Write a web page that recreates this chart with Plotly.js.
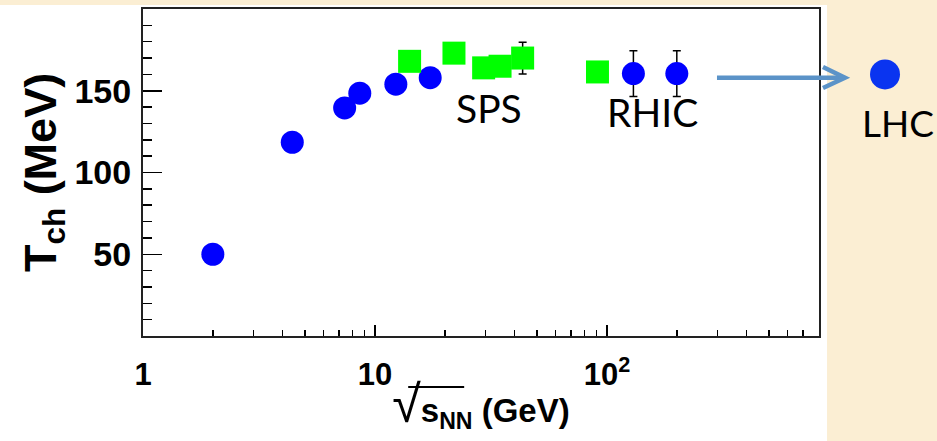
<!DOCTYPE html>
<html>
<head>
<meta charset="utf-8">
<script src="https://cdn.plot.ly/plotly-3.0.1.min.js"></script>
<style>html,body{margin:0;padding:0;background:#fbeed3;}</style>
</head>
<body>
<div id="chart" style="width:937px;height:441px;"></div>
<script>
// Blue circles (AGS/SIS + RHIC)
const blueEnergy = [2.0, 4.4, 7.4, 8.6, 12.3, 17.3, 130, 200];
const blueTch    = [50, 118.5, 139.5, 148.5, 154, 158, 160.5, 160.5];
const blueErr    = [0, 0, 0, 0, 0, 0, 14, 14];
// Green squares (SPS)
const greenEnergy = [14.1, 21.9, 29.4, 34.6, 43.3, 91];
const greenTch    = [168, 173, 164, 165, 170, 161.5];
const greenErr    = [0, 0, 0, 0, 9.7, 0];
// LHC point, drawn in a separate inset outside the frame
const lhcEnergy = [2760];
const lhcTch    = [160];
// Axis ticks
const xTickVals = [1, 10, 100];
const xTickText = ['1', '10', '10<sup>2</sup>'];
const xMinorVals = [2,3,4,5,6,7,8,9,20,30,40,50,60,70,80,90,200,300,400,500,600,700];
const yTickVals = [50, 100, 150];
const yTickText = ['50', '100', '150'];
const yMinorVals = [10,20,30,40,60,70,80,90,110,120,130,140,160,170,180,190];

const boldFam = 'Liberation Sans, Arial, sans-serif';
const labelFont = {family: 'Lato, Calibri, sans-serif', size: 39, color: '#000'};
const arrowColor = '#5b93c8';

const traces = [
  {x: blueEnergy, y: blueTch, type: 'scatter', mode: 'markers', cliponaxis: false,
   marker: {symbol: 'circle', size: 23, color: '#0000ff'},
   error_y: {type: 'data', array: blueErr, visible: true, color: '#000', thickness: 1.5, width: 4}},
  {x: greenEnergy, y: greenTch, type: 'scatter', mode: 'markers', cliponaxis: false,
   marker: {symbol: 'square', size: 23, color: '#00ff00'},
   error_y: {type: 'data', array: greenErr, visible: true, color: '#000', thickness: 1.5, width: 4}},
  {x: lhcEnergy, y: lhcTch, xaxis: 'x2', yaxis: 'y', type: 'scatter', mode: 'markers', cliponaxis: false,
   marker: {symbol: 'circle', size: 30, color: '#0a34f0'}}
];

const layout = {
  width: 937, height: 441,
  margin: {l: 143, r: 0, t: 9, b: 105},
  paper_bgcolor: '#fbeed3',
  plot_bgcolor: 'rgba(0,0,0,0)',
  showlegend: false,
  xaxis: {
    type: 'log', range: [0, 2.914], domain: [0, 0.8514], anchor: 'y',
    tickvals: xTickVals, ticktext: xTickText,
    ticks: 'inside', ticklen: 11, tickwidth: 1.5, tickcolor: '#000',
    minor: {tickvals: xMinorVals, ticks: 'inside', ticklen: 6, tickwidth: 1.5, tickcolor: '#000'},
    showgrid: false, zeroline: false,
    showline: true, linecolor: '#222', linewidth: 2, mirror: true,
    tickfont: {family: boldFam, size: 31, color: '#000', weight: 'bold'}, ticklabelstandoff: 10,
    title: {text: '<span style="font-size:52px;font-weight:normal">√</span>s<sub>NN</sub> (GeV)',
            font: {family: boldFam, size: 33, color: '#000', weight: 'bold'},
            standoff: 8}
  },
  xaxis2: {
    type: 'log', range: [2.994, 3.994], domain: [0.8816, 1], anchor: 'y',
    visible: false, showgrid: false, zeroline: false
  },
  yaxis: {
    range: [0, 200], anchor: 'x',
    tickvals: yTickVals, ticktext: yTickText,
    ticks: 'inside', ticklen: 19, tickwidth: 1.5, tickcolor: '#000',
    minor: {tickvals: yMinorVals, ticks: 'inside', ticklen: 9, tickwidth: 1.5, tickcolor: '#000'},
    showgrid: false, zeroline: false,
    showline: true, linecolor: '#222', linewidth: 2, mirror: true,
    tickfont: {family: boldFam, size: 34, color: '#000', weight: 'bold'}, ticklabelstandoff: 3,
    title: {text: 'T<sub>ch</sub> (MeV)',
            font: {family: boldFam, size: 45, color: '#000', weight: 'bold'},
            standoff: 4}
  },
  shapes: [
    {type: 'rect', xref: 'paper', yref: 'paper', x0: -0.1801, x1: 0.8615, y0: -0.3211, y1: 1.0122,
     fillcolor: '#ffffff', line: {width: 0}, layer: 'below'},
    {type: 'line', xref: 'paper', yref: 'paper', x0: 0.7229, x1: 0.8800, y0: 0.7899, y1: 0.7899,
     line: {color: arrowColor, width: 4.5}},
    {type: 'path', xref: 'paper', yref: 'paper',
     path: 'M 0.8564 0.8226 L 0.8841 0.7899 L 0.8564 0.7584',
     line: {color: arrowColor, width: 4.5}, fillcolor: 'rgba(0,0,0,0)'},
    // overline of the square root in the x title
    {type: 'line', xref: 'paper', yref: 'paper', x0: 0.334, x1: 0.4045, y0: -0.1560, y1: -0.1560,
     line: {color: '#000', width: 2}}
  ],
  annotations: [
    {xref: 'paper', yref: 'paper', x: 0.4358, y: 0.6972, text: 'SPS', showarrow: false,
     xanchor: 'center', yanchor: 'middle', font: labelFont},
    {xref: 'paper', yref: 'paper', x: 0.6423, y: 0.685, text: 'RHIC', showarrow: false,
     xanchor: 'center', yanchor: 'middle', font: labelFont},
    {xref: 'paper', yref: 'paper', x: 0.9030, y: 0.6514, text: 'LHC', showarrow: false,
     xanchor: 'left', yanchor: 'middle', font: {family: 'Lato, Calibri, sans-serif', size: 37, color: '#000'}}
  ]
};

Plotly.newPlot('chart', traces, layout, {displayModeBar: false, staticPlot: true});
</script>
</body>
</html>
